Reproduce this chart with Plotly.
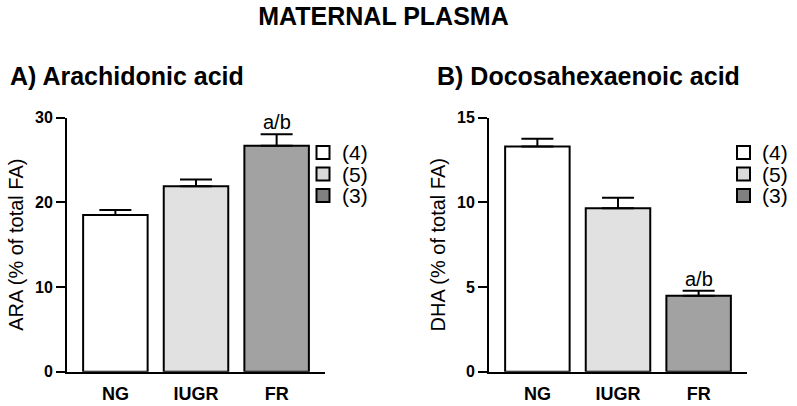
import plotly.graph_objects as go

W, H = 797, 406

categories = ["NG", "IUGR", "FR"]
ara_mean = [18.5, 21.9, 26.7]
ara_sem = [0.6, 0.8, 1.35]
dha_mean = [13.3, 9.65, 4.48]
dha_sem = [0.45, 0.63, 0.30]
sig_labels = ["", "", "a/b"]
legend_labels = ["(4)", "(5)", "(3)"]
bar_colors = ["#ffffff", "#e1e1e1", "#a2a2a2"]
legend_colors = ["#ffffff", "#dadada", "#808080"]
ara_ticks = [0, 10, 20, 30]
dha_ticks = [0, 5, 10, 15]

FONT = "Arial, 'Liberation Sans', sans-serif"


def px_x(p):
    return p / W


def px_y(p):
    return 1 - p / H


fig = go.Figure()

for means, sems, xa, ya in [(ara_mean, ara_sem, "x", "y"), (dha_mean, dha_sem, "x2", "y2")]:
    fig.add_trace(go.Bar(
        x=categories, y=means, xaxis=xa, yaxis=ya, width=0.8,
        marker=dict(color=bar_colors, line=dict(color="black", width=2)),
        error_y=dict(type="data", symmetric=False, array=sems,
                     arrayminus=[0] * len(sems), color="black",
                     thickness=2, width=16),
        showlegend=False, hoverinfo="skip",
    ))

ydom = [px_y(371.7), px_y(117.7)]
common_x = dict(range=[-0.6, 2.6], showline=True, linecolor="black", linewidth=2,
                ticks="", showgrid=False, zeroline=False, automargin=False,
                tickfont=dict(family=FONT, size=18, color="black", weight="bold"),
                ticklabelstandoff=5)
common_y = dict(showline=True, linecolor="black", linewidth=2, ticks="outside",
                ticklen=9, tickwidth=2, tickcolor="black", showgrid=False,
                zeroline=False, automargin=False, domain=ydom,
                tickfont=dict(family=FONT, size=16, color="black", weight="bold"),
                title_font=dict(family=FONT, size=20, color="black"),
                title_standoff=6)

fig.update_layout(
    width=W, height=H, margin=dict(l=0, r=0, t=0, b=0),
    paper_bgcolor="white", plot_bgcolor="white",
    barmode="overlay",
    xaxis=dict(domain=[px_x(67), px_x(325)], anchor="y", **common_x),
    xaxis2=dict(domain=[px_x(489), px_x(747)], anchor="y2", **common_x),
    yaxis=dict(range=[0, 30], tickvals=ara_ticks, anchor="x",
               title_text="ARA (% of total FA)", **common_y),
    yaxis2=dict(range=[0, 15], tickvals=dha_ticks, anchor="x2",
                title_text="DHA (% of total FA)", **common_y),
    title=dict(text="<b>MATERNAL PLASMA</b>", x=px_x(383.5), xanchor="center",
               y=px_y(16.5), yanchor="middle",
               font=dict(family=FONT, size=25, color="black")),
    showlegend=False,
)

# panel titles
fig.add_annotation(text="<b>A) Arachidonic acid</b>", xref="paper", yref="paper",
                   x=px_x(8), y=px_y(76), xanchor="left", yanchor="middle",
                   showarrow=False, font=dict(family=FONT, size=25, color="black"))
fig.add_annotation(text="<b>B) Docosahexaenoic acid</b>", xref="paper", yref="paper",
                   x=px_x(435), y=px_y(76), xanchor="left", yanchor="middle",
                   showarrow=False, font=dict(family=FONT, size=25, color="black"))

# significance labels above error bars
for means, sems, xr, yr in [(ara_mean, ara_sem, "x", "y"), (dha_mean, dha_sem, "x2", "y2")]:
    for c, m, s, lab in zip(categories, means, sems, sig_labels):
        if lab:
            fig.add_annotation(text=lab, x=c, y=m + s, xref=xr, yref=yr,
                               yanchor="bottom", xanchor="center", yshift=-1,
                               showarrow=False,
                               font=dict(family=FONT, size=20, color="black"))

# custom legends (group sample sizes)
row_tops = [146, 167.5, 189]
for sq_left, txt_left in [(316.5, 340), (737, 760)]:
    for top, col, lab in zip(row_tops, legend_colors, legend_labels):
        fig.add_shape(type="rect", xref="paper", yref="paper",
                      x0=px_x(sq_left), x1=px_x(sq_left + 13),
                      y0=px_y(top + 13), y1=px_y(top),
                      fillcolor=col, line=dict(color="black", width=2))
        fig.add_annotation(text=lab, xref="paper", yref="paper",
                           x=px_x(txt_left), y=px_y(top + 6.5),
                           xanchor="left", yanchor="middle", showarrow=False,
                           font=dict(family=FONT, size=21, color="black"))

fig.write_html("out.html", config={"displayModeBar": False},
               post_script="document.body.style.margin='0';document.body.style.padding='0';document.body.style.overflow='hidden';")
